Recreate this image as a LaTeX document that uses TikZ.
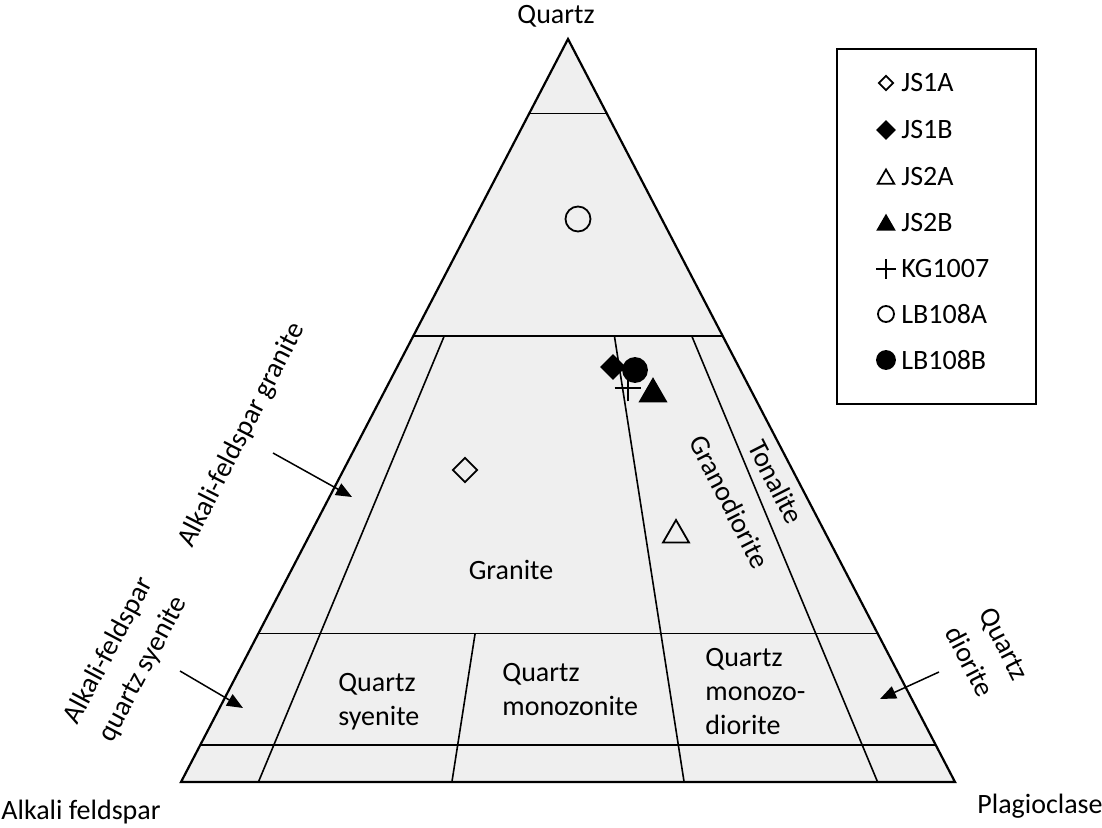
\documentclass[tikz,border=0pt]{standalone}
\usepackage{fontspec}
\setmainfont{Carlito}
\usetikzlibrary{arrows.meta,shapes.geometric,shapes.misc}
\definecolor{fieldgray}{HTML}{EFEFEF}
\tikzset{
  field/.style={fill=fieldgray,draw=black,line width=1.1pt},
  bound/.style={line width=0.8pt},
  rocklabel/.style={font=\fontsize{14}{17}\selectfont,inner sep=0pt,align=center},
  widelabel/.style={rocklabel,font=\fontsize{14}{19.5}\selectfont},
  pointer/.style={line width=0.75pt,-{Triangle[length=8pt,width=6.5pt]}},
  dia/.style={diamond,draw,line width=0.9pt,inner sep=0pt,minimum size=#1},
  tri/.style={regular polygon,regular polygon sides=3,draw,line width=0.9pt,inner sep=0pt,minimum size=#1},
  ring/.style={circle,draw,line width=0.9pt,inner sep=0pt,minimum size=#1},
  plusmark/.style={cross out,draw,line width=0.9pt,rotate=45,inner sep=0pt,minimum size=#1}
}
\begin{document}
\begin{tikzpicture}[x=0.5pt,y=-0.5pt]
  \useasboundingbox (0,0) rectangle (1102,828);
  \coordinate (Q) at (568,39);
  \coordinate (A) at (181,782);
  \coordinate (P) at (955,782);
  \filldraw[field] (Q) -- (A) -- (P) -- cycle;
  \path
    (barycentric cs:Q=0.9,A=0.1) coordinate (q90a)
    (barycentric cs:Q=0.9,P=0.1) coordinate (q90p)
    (barycentric cs:Q=0.6,A=0.4) coordinate (q60a)
    (barycentric cs:Q=0.6,P=0.4) coordinate (q60p)
    (barycentric cs:Q=0.2,A=0.8) coordinate (q20a)
    (barycentric cs:Q=0.2,P=0.8) coordinate (q20p)
    (barycentric cs:Q=0.05,A=0.95) coordinate (q05a)
    (barycentric cs:Q=0.05,P=0.95) coordinate (q05p)
    (barycentric cs:Q=0.6,A=0.36,P=0.04) coordinate (f10t)
    (barycentric cs:A=0.9,P=0.1) coordinate (f10b)
    (barycentric cs:Q=0.2,A=0.52,P=0.28) coordinate (f35t)
    (barycentric cs:A=0.65,P=0.35) coordinate (f35b)
    (barycentric cs:Q=0.6,A=0.14,P=0.26) coordinate (f65t)
    (barycentric cs:A=0.35,P=0.65) coordinate (f65b)
    (barycentric cs:Q=0.6,A=0.04,P=0.36) coordinate (f90t)
    (barycentric cs:A=0.1,P=0.9) coordinate (f90b);
  \begin{scope}[bound]
    \draw (q90a) to (q90p);
    \draw (q60a) to (q60p);
    \draw (q20a) to (q20p);
    \draw (q05a) to (q05p);
    \draw (f10t) to (f10b);
    \draw (f35t) to (f35b);
    \draw (f65t) to (f65b);
    \draw (f90t) to (f90b);
  \end{scope}
  % field names
  \node[rocklabel] (quartz) at (556,16) {Quartz};
  \node[rocklabel] (alkali) at (81,812) {Alkali feldspar};
  \node[rocklabel] (plag) at (1040,806) {Plagioclase};
  \node[rocklabel] (granite) at (511,570) {Granite};
  \node[rocklabel,rotate=-63] (granodiorite) at (730,502) {Granodiorite};
  \node[rocklabel,rotate=-63] (tonalite) at (776,482) {Tonalite};
  \node[rocklabel,rotate=63] (afgranite) at (242,435) {Alkali-feldspar granite};
  \node[widelabel,rotate=62] (afqsyenite) at (126,660) {Alkali-feldspar\\quartz syenite};
  \node[widelabel,rotate=-63] (qdiorite) at (987,653) {Quartz\\diorite};
  \node[rocklabel,align=left,anchor=north west] (qsyenite) at (338,673) {Quartz\\syenite};
  \node[rocklabel,align=left,anchor=north west] (qmonzonite) at (502,663) {Quartz\\monozonite};
  \node[rocklabel,align=left,anchor=north west] (qmonzodiorite) at (705,648) {Quartz\\monozo-\\diorite};
  % pointers
  \coordinate (afgranite-s) at (273,453);
  \coordinate (afgranite-e) at (352,497);
  \coordinate (afqsyenite-s) at (180,671);
  \coordinate (afqsyenite-e) at (243,708);
  \coordinate (qdiorite-s) at (939,672);
  \coordinate (qdiorite-e) at (880,699);
  \draw[pointer] (afgranite-s) -- (afgranite-e);
  \draw[pointer] (afqsyenite-s) -- (afqsyenite-e);
  \draw[pointer] (qdiorite-s) -- (qdiorite-e);
  % samples
  \node[ring=12.5pt] (LB108A) at (578,219) {};
  \node[dia=12.5pt] (JS1A) at (465,470) {};
  \node[tri=15pt] (JS2A) at (676,535) {};
  \node[dia=12pt,fill=black] (JS1B) at (613,367) {};
  \node[ring=12pt,fill=black] (LB108B) at (635,370) {};
  \node[plusmark=8.5pt] (KG1007) at (628,388) {};
  \node[tri=15pt,fill=black] (JS2B) at (653,394) {};
  % legend
  \draw[line width=1pt] (837,49) rectangle (1036,404);
  \node[dia=7.5pt] (m1) at (886,83) {};
  \node[dia=9pt,fill=black] (m2) at (886,130) {};
  \node[tri=9.5pt] (m3) at (886,179) {};
  \node[tri=9.5pt,fill=black] (m4) at (886,225) {};
  \node[plusmark=6pt] (m5) at (886,269) {};
  \node[ring=8pt] (m6) at (886,314) {};
  \node[ring=9pt,fill=black] (m7) at (886,360) {};
  \node[rocklabel,anchor=west] (t1) at (901,83) {JS1A};
  \node[rocklabel,anchor=west] (t2) at (901,130) {JS1B};
  \node[rocklabel,anchor=west] (t3) at (901,177) {JS2A};
  \node[rocklabel,anchor=west] (t4) at (901,223) {JS2B};
  \node[rocklabel,anchor=west] (t5) at (901,269) {KG1007};
  \node[rocklabel,anchor=west] (t6) at (901,314) {LB108A};
  \node[rocklabel,anchor=west] (t7) at (901,360) {LB108B};
\end{tikzpicture}
\end{document}
